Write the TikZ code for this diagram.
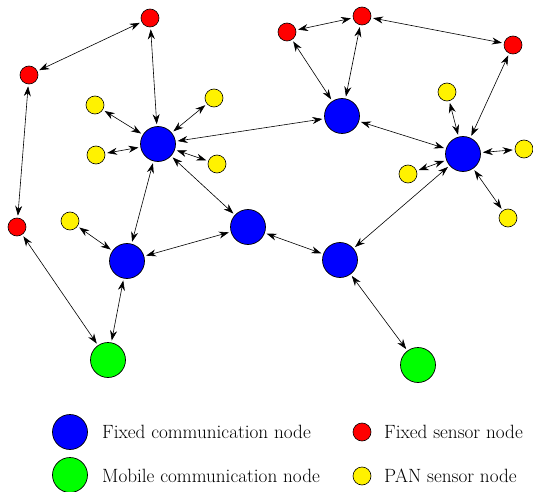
\documentclass[tikz,border=0pt]{standalone}
\usetikzlibrary{arrows.meta}
\begin{document}
\begin{tikzpicture}[x=1pt,y=-1pt,
  comm/.style={circle,draw=black,line width=0.7pt,minimum size=35pt,inner sep=0pt},
  sens/.style={circle,draw=black,line width=0.6pt,minimum size=18pt,inner sep=0pt},
  fixedc/.style={comm,fill=blue},
  mobc/.style={comm,fill=green},
  reds/.style={sens,fill=red},
  yels/.style={sens,fill=yellow},
  link/.style={{Stealth[length=10pt,width=7pt]}-{Stealth[length=10pt,width=7pt]},line width=0.6pt,shorten <=2pt,shorten >=2pt},
  lab/.style={anchor=west,font=\fontsize{19.2}{21}\selectfont,inner sep=0pt}]
\useasboundingbox (0,0) rectangle (533,492);
% blue
\node[fixedc] (B1) at (158,144) {};
\node[fixedc] (B2) at (342,116) {};
\node[fixedc] (B3) at (463,154) {};
\node[fixedc] (B4) at (248,227) {};
\node[fixedc] (B5) at (127,261) {};
\node[fixedc] (B6) at (340,260) {};
% green
\node[mobc] (G1) at (108,360) {};
\node[mobc] (G2) at (418,365) {};
% red
\node[reds] (R1) at (150,18) {};
\node[reds] (R2) at (29,75) {};
\node[reds] (R3) at (17,227) {};
\node[reds] (R4) at (287,32) {};
\node[reds] (R5) at (362,16) {};
\node[reds] (R6) at (513,45) {};
% yellow
\node[yels] (Y1) at (95,105) {};
\node[yels] (Y2) at (214,98) {};
\node[yels] (Y3) at (96,155) {};
\node[yels] (Y4) at (217,164) {};
\node[yels] (Y5) at (70,221) {};
\node[yels] (Y6) at (447,92) {};
\node[yels] (Y7) at (524,149) {};
\node[yels] (Y8) at (408,174) {};
\node[yels] (Y9) at (508,218) {};
% links
\draw[link] (R1) -- (R2);
\draw[link] (R1) -- (B1);
\draw[link] (R2) -- (R3);
\draw[link] (R3) -- (G1);
\draw[link] (Y1) -- (B1);
\draw[link] (Y2) -- (B1);
\draw[link] (Y3) -- (B1);
\draw[link] (Y4) -- (B1);
\draw[link] (B1) -- (B2);
\draw[link] (B1) -- (B4);
\draw[link] (B1) -- (B5);
\draw[link] (Y5) -- (B5);
\draw[link] (B5) -- (G1);
\draw[link] (B5) -- (B4);
\draw[link] (B4) -- (B6);
\draw[link] (B6) -- (B3);
\draw[link] (B6) -- (G2);
\draw[link] (B2) -- (B3);
\draw[link] (B2) -- (R4);
\draw[link] (B2) -- (R5);
\draw[link] (R4) -- (R5);
\draw[link] (R5) -- (R6);
\draw[link] (R6) -- (B3);
\draw[link] (Y6) -- (B3);
\draw[link] (Y7) -- (B3);
\draw[link] (Y8) -- (B3);
\draw[link] (Y9) -- (B3);
% legend
\node[fixedc] (LB) at (70,432) {};
\node[lab] (LBt) at (102,432) {Fixed communication node};
\node[mobc] (LG) at (70,475) {};
\node[lab] (LGt) at (102,476) {Mobile communication node};
\node[reds] (LR) at (362,432) {};
\node[lab] (LRt) at (384,432) {Fixed sensor node};
\node[yels] (LY) at (362,476) {};
\node[lab] (LYt) at (384,476) {PAN sensor node};
\end{tikzpicture}
\end{document}
